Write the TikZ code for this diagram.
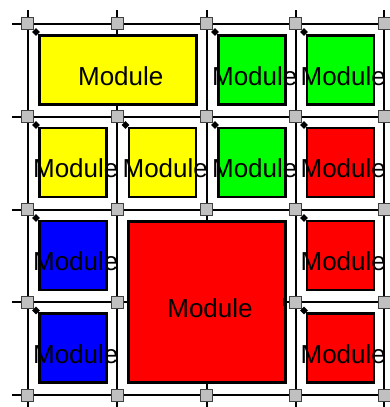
\documentclass[tikz,border=0pt]{standalone}
\usepackage{fontspec}
\newfontfamily\modfont{Liberation Sans}
\definecolor{swgray}{RGB}{192,192,192}
\definecolor{swedge}{RGB}{64,64,64}
\definecolor{modyellow}{RGB}{255,255,0}
\definecolor{modgreen}{RGB}{0,255,0}
\definecolor{modblue}{RGB}{0,0,255}
\definecolor{modred}{RGB}{255,0,0}

\begin{document}
\begin{tikzpicture}[x=1pt, y=-1pt,
  wire/.style={line width=2pt},
  switch/.style={draw=swedge, fill=swgray, line width=1pt, minimum size=12pt, inner sep=0pt},
  module/.style={draw, line width=2.5pt, inner sep=0pt, label={[modtext]center:Module}},
  modtext/.style={font=\modfont\fontsize{26}{30}\selectfont, xshift=3pt, yshift=-6pt},
  single/.style={minimum width=67pt, minimum height=69pt},
  pin/.style={fill, minimum size=5.5pt, inner sep=0pt, rotate=45}]
  \useasboundingbox (0,0) rectangle (390,407);
  % wire ends
  \foreach \i/\x in {0/27.5,1/117,2/206.5,3/295.5,4/384} {
    \coordinate (top\i) at (\x,10);
    \coordinate (bot\i) at (\x,407);
  }
  \foreach \j/\y in {0/23.5,1/116.5,2/209.5,3/302,4/395} {
    \coordinate (left\j) at (12,\y);
    \coordinate (right\j) at (390,\y);
  }
  % routing channels
  \foreach \k in {0,...,4} {
    \draw[wire] (top\k) -- (bot\k);
    \draw[wire] (left\k) -- (right\k);
  }
  % switch boxes
  \foreach \i/\x in {0/27.5,1/117,2/206.5,3/295.5,4/384}
    \foreach \j/\y in {0/23.5,1/116.5,2/209.5,3/302,4/395}
      \node[switch] (sw\i\j) at (\x,\y) {};
  % logic blocks
  \node[module, fill=modyellow, minimum width=157pt, minimum height=69pt] (clb00) at (117.75,69.75) {};
  \node[module, single, fill=modgreen] (clb20) at (251.75,69.75) {};
  \node[module, single, fill=modgreen] (clb30) at (340.25,69.75) {};
  \node[module, single, fill=modyellow] (clb01) at (72.75,162.5) {};
  \node[module, single, fill=modyellow] (clb11) at (162.25,162.5) {};
  \node[module, single, fill=modgreen] (clb21) at (251.75,162.5) {};
  \node[module, single, fill=modred] (clb31) at (340.25,162.5) {};
  \node[module, single, fill=modblue] (clb02) at (72.75,255.5) {};
  \node[module, fill=modred, minimum width=157pt, minimum height=161pt] (clb12) at (207,301.75) {};
  \node[module, single, fill=modred] (clb32) at (340.25,255.5) {};
  \node[module, single, fill=modblue] (clb03) at (72.75,348) {};
  \node[module, single, fill=modred] (clb33) at (340.25,348) {};
  % pins
  \foreach \i/\j in {0/0,2/0,3/0,0/1,1/1,2/1,3/1,0/2,3/2,0/3,3/3}
    \node[pin] (pin\i\j) at ([shift={(8.5,8.5)}]sw\i\j) {};
  \node[fill, minimum width=4pt, minimum height=8pt, inner sep=0pt] (clbpin) at (285,302) {};
\end{tikzpicture}
\end{document}
